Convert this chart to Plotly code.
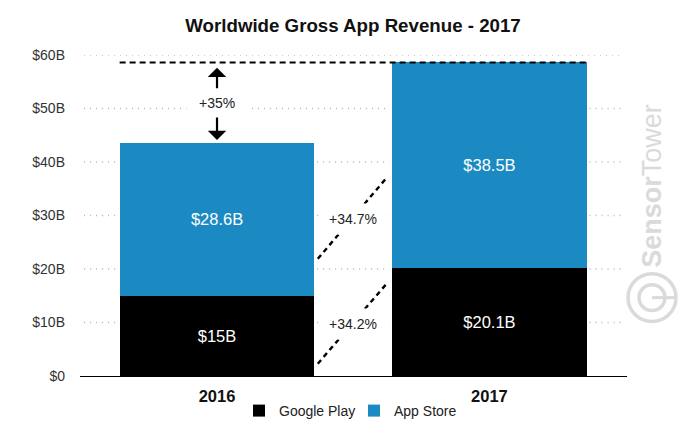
import plotly.graph_objects as go

FONT = "Liberation Sans, Arial, Helvetica, sans-serif"
W, H = 694, 442

# Datos
years = ["2016", "2017"]
google_play = [15, 20.1]
app_store = [28.6, 38.5]
google_labels = ["$15B", "$20.1B"]
app_labels = ["$28.6B", "$38.5B"]
y_ticks = [0, 10, 20, 30, 40, 50, 60]
y_tick_labels = ["$0", "$10B", "$20B", "$30B", "$40B", "$50B", "$60B"]

total_line = 58.6
growth_app = [21.9, 37.2]
growth_google = [2.3, 17.4]
growth_x = [0.37, 0.625]

BLUE = "#1b8ac2"
GRID = "#b4b4b4"
MARK = "#dadada"
BAR_W = 0.715

# area del grafico en pixeles
L, R, T, B = 80, 627, 55, 376.5


def px(x):
    return (x - L) / (R - L)


def py(y):
    return (B - y) / (B - T)


fig = go.Figure()
fig.add_bar(x=years, y=google_play, name="Google Play", width=BAR_W,
            marker=dict(color="#000000", line=dict(width=0)),
            text=google_labels, textposition="inside", insidetextanchor="middle",
            textangle=0, textfont=dict(color="white", size=16.5, family=FONT),
            hoverinfo="skip")
fig.add_bar(x=years, y=app_store, name="App Store", width=BAR_W,
            marker=dict(color=BLUE, line=dict(width=0)),
            text=app_labels, textposition="inside", insidetextanchor="middle",
            textangle=0, textfont=dict(color="white", size=16.5, family=FONT),
            hoverinfo="skip")

shapes = []

# lineas de rejilla punteadas, cortadas solo donde hay barra
GRID_X0, GRID_X1 = -0.488, 1.486
GAP = 0.01
totals = [g + a for g, a in zip(google_play, app_store)]
for t in y_ticks[1:]:
    start = GRID_X0
    for i, total in enumerate(totals):
        if total >= t:
            shapes.append(dict(type="line", layer="below", x0=start, x1=i - BAR_W / 2 - GAP, y0=t, y1=t,
                               line=dict(color=GRID, width=1.3, dash="1px,5px")))
            start = i + BAR_W / 2 + GAP
    shapes.append(dict(type="line", layer="below", x0=start, x1=GRID_X1, y0=t, y1=t,
                       line=dict(color=GRID, width=1.3, dash="1px,5px")))

# linea total 2017
shapes.append(dict(type="line", x0=-BAR_W / 2, x1=1 + BAR_W / 2, y0=total_line, y1=total_line,
                   line=dict(color="black", width=2.2, dash="6px,4px")))
# lineas de crecimiento
for ys in (growth_app, growth_google):
    shapes.append(dict(type="line", x0=growth_x[0], x1=growth_x[1], y0=ys[0], y1=ys[1],
                       line=dict(color="black", width=2.4, dash="5px,4px")))

# logo de la marca de agua
for r in (24, 13):
    shapes.append(dict(type="circle", xref="paper", yref="paper",
                       x0=px(652 - r), x1=px(652 + r), y0=py(298 + r), y1=py(298 - r),
                       line=dict(color=MARK, width=3.5)))
shapes.append(dict(type="line", xref="paper", yref="paper",
                   x0=px(652), x1=px(676), y0=py(298), y1=py(298),
                   line=dict(color=MARK, width=3)))

label_font = dict(size=14, color="#222222", family=FONT)
annotations = [
    dict(x=0, y=51, text="+35%", showarrow=False, bgcolor="white", borderpad=12, font=label_font),
    dict(x=0.5, y=29.3, text="+34.7%", showarrow=False, bgcolor="white", borderpad=7, font=label_font),
    dict(x=0.5, y=9.8, text="+34.2%", showarrow=False, bgcolor="white", borderpad=7, font=label_font),
    # flechas +35%
    dict(x=0, y=57.6, ax=0, ay=53.5, xref="x", yref="y", axref="x", ayref="y", text="",
         showarrow=True, arrowhead=1, arrowsize=1.4, arrowwidth=2.2, arrowcolor="black"),
    dict(x=0, y=44.1, ax=0, ay=48.6, xref="x", yref="y", axref="x", ayref="y", text="",
         showarrow=True, arrowhead=1, arrowsize=1.4, arrowwidth=2.2, arrowcolor="black"),
    dict(x=px(652), y=py(186), xref="paper", yref="paper", text="<b>Sensor</b>Tower",
         xanchor="center", yanchor="middle",
         textangle=-90, showarrow=False, font=dict(size=27, color=MARK, family=FONT)),
]

fig.update_layout(
    width=W, height=H,
    margin=dict(l=L, r=W - R, t=T, b=H - B, autoexpand=False),
    paper_bgcolor="white", plot_bgcolor="white",
    barmode="stack",
    font=dict(family=FONT, size=14, color="#222222"),
    title=dict(text="<b>Worldwide Gross App Revenue - 2017</b>", x=353 / W, y=1 - 25 / H,
               xanchor="center", yanchor="middle",
               font=dict(size=18.7, color="#111111", family=FONT)),
    shapes=shapes,
    annotations=annotations,
    legend=dict(orientation="h", x=px(239), xanchor="left", y=1 - 411 / H, yanchor="middle",
                yref="container", traceorder="normal", entrywidth=70, entrywidthmode="pixels",
                bgcolor="rgba(0,0,0,0)", font=label_font),
    xaxis=dict(type="category", range=[-0.503, 1.505], showgrid=False, showline=True,
               linecolor="black", linewidth=1.2, ticks="", zeroline=False,
               ticklabelstandoff=5,
               tickfont=dict(size=16.5, color="#111111", family=FONT),
               tickvals=years, ticktext=["<b>2016</b>", "<b>2017</b>"]),
    yaxis=dict(range=[0, 60], showgrid=False, zeroline=False, showline=False,
               tickvals=y_ticks, ticktext=y_tick_labels, ticks="", ticklabelstandoff=14,
               tickfont=dict(size=14, color="#333333", family=FONT)),
)

# quitar el margen del body para que la figura empiece en 0,0
fig.write_html("out.html", config=dict(displayModeBar=False),
               post_script="document.body.style.margin='0';")
